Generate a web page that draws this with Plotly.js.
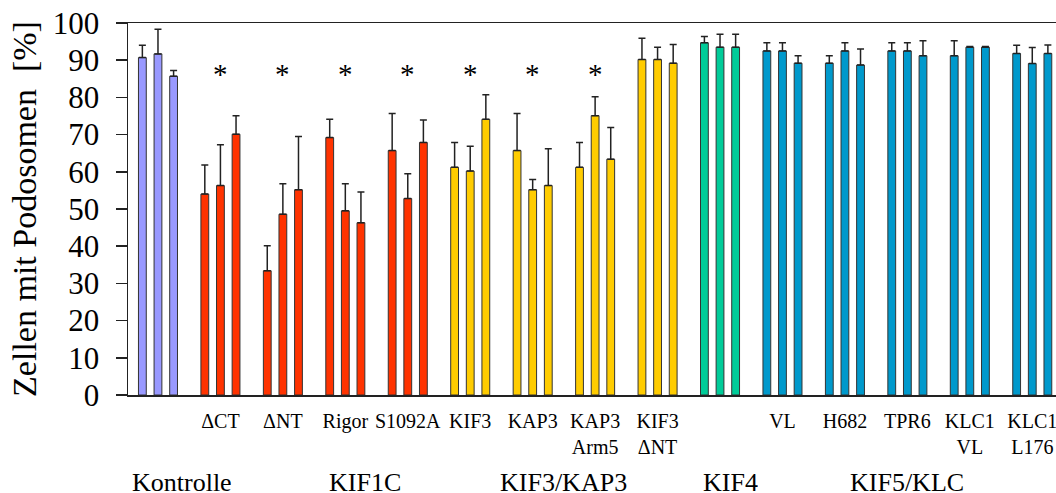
<!DOCTYPE html>
<html>
<head>
<meta charset="utf-8">
<script src="https://cdn.plot.ly/plotly-3.0.1.min.js"></script>
<style>html,body{margin:0;padding:0;background:#fff;}#chart{width:1056px;height:493px;}</style>
</head>
<body>
<div id="chart"></div>
<script>
// ---- data ----
const categories = ["Kontrolle", "dCT", "dNT", "Rigor", "S1092A", "KIF3", "KAP3", "KAP3 Arm5", "KIF3 dNT", "KIF4", "VL", "H682", "TPR6", "KLC1 VL", "KLC1 L176"];
const tickLabels = ["", "ΔCT", "ΔNT", "Rigor", "S1092A", "KIF3", "KAP3", "KAP3<br>Arm5", "KIF3<br>ΔNT", "", "VL", "H682", "TPR6", "KLC1<br>VL", "KLC1<br>L176"];
const families = ["Kontrolle", "KIF1C", "KIF3/KAP3", "KIF4", "KIF5/KLC"];
const familyOf = [0, 1, 1, 1, 1, 2, 2, 2, 2, 3, 4, 4, 4, 4, 4];
const significant = [false, true, true, true, true, true, true, true, false, false, false, false, false, false, false];

const mean1 = [90.7, 54.0, 33.4, 69.2, 65.7, 61.2, 65.7, 61.2, 90.2, 94.7, 92.5, 89.2, 92.5, 91.2, 91.8];
const mean2 = [91.7, 56.3, 48.6, 49.5, 52.8, 60.2, 55.2, 75.1, 90.2, 93.5, 92.5, 92.5, 92.5, 93.5, 89.1];
const mean3 = [85.7, 70.1, 55.2, 46.3, 67.9, 74.1, 56.3, 63.4, 89.2, 93.5, 89.2, 88.7, 91.2, 93.5, 91.8];
const err1 = [3.3, 7.8, 6.7, 4.9, 10.0, 6.7, 10.0, 6.7, 5.7, 1.7, 2.2, 2.0, 2.2, 4.0, 2.2];
const err2 = [6.6, 11.0, 8.2, 7.3, 6.7, 6.7, 2.7, 5.1, 3.3, 3.5, 2.2, 2.2, 2.2, 0.2, 4.3];
const err3 = [1.5, 5.0, 14.3, 8.3, 6.0, 6.6, 9.9, 8.5, 5.0, 3.5, 2.0, 4.3, 4.0, 0.2, 2.3];

// ---- style ----
const familyColors = ["#9999ff", "#ff3300", "#ffcc00", "#00cc99", "#0099cc"];
const FONT = "Liberation Serif, Times New Roman, serif";
const barColors = familyOf.map(f => familyColors[f]);

function barTrace(means, errs) {
  return {
    type: "bar",
    x: categories,
    y: means,
    marker: {color: barColors, line: {color: "#333", width: 1}},
    error_y: {type: "data", symmetric: false, array: errs, arrayminus: errs.map(() => 0),
              color: "#222", thickness: 1.5, width: 3.5},
    hoverinfo: "y",
    showlegend: false
  };
}
const data = [barTrace(mean1, err1), barTrace(mean2, err2), barTrace(mean3, err3)];

const annotations = [];
categories.forEach((c, i) => {
  if (significant[i]) {
    annotations.push({x: c, y: 86.4, xref: "x", yref: "y", text: "*", showarrow: false,
      yanchor: "middle", font: {family: FONT, size: 29, color: "#000"}});
  }
});
const familyLabelPos = [0.38, 3.32, 6.5, 9.16, 12.0];
families.forEach((f, k) => {
  annotations.push({x: familyLabelPos[k], y: 0, xref: "x", yref: "paper", yanchor: "middle",
    yshift: -87, height: 20, valign: "middle", borderpad: 0, text: f, showarrow: false,
    font: {family: FONT, size: 26, color: "#000"}});
});

const layout = {
  width: 1056, height: 493,
  margin: {l: 128, r: 0, t: 23, b: 98},
  paper_bgcolor: "#fff", plot_bgcolor: "#fff",
  font: {family: FONT, color: "#000"},
  barmode: "group", bargap: 0.25, bargroupgap: 0.5,
  xaxis: {
    type: "category", range: [-0.48, 14.38],
    tickmode: "array", tickvals: categories, ticktext: tickLabels,
    ticks: "", showgrid: false, zeroline: false,
    showline: true, mirror: true, linecolor: "#222", linewidth: 1.5,
    tickfont: {family: FONT, size: 20, color: "#000"}, tickangle: 0,
    ticklabelstandoff: 7
  },
  yaxis: {
    range: [0, 100], dtick: 10, ticks: "outside", ticklen: 11, tickwidth: 1.5, tickcolor: "#222",
    showgrid: false, zeroline: false, showline: true, linecolor: "#222", linewidth: 1.5,
    tickfont: {family: FONT, size: 31, color: "#000"}, ticklabelstandoff: 10,
    title: {text: "Zellen mit Podosomen\u00A0 [%]", font: {family: FONT, size: 34, color: "#000"}, standoff: 6}
  },
  annotations: annotations
};

Plotly.newPlot("chart", data, layout, {displayModeBar: false, staticPlot: true});
</script>
</body>
</html>
